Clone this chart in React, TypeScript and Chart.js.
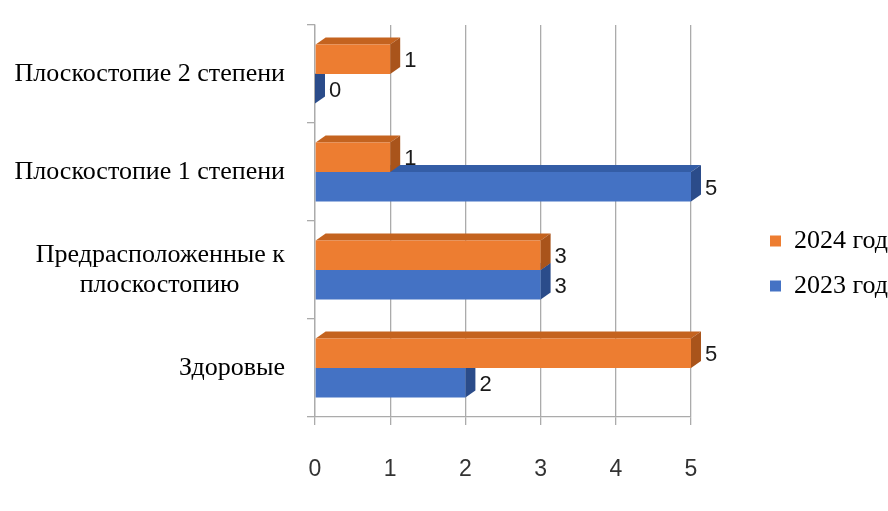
import { useEffect, useRef } from "react";
import { Chart, registerables } from "chart.js";

Chart.register(...registerables);

const categories: string[][] = [
  ["Плоскостопие 2 степени"],
  ["Плоскостопие 1 степени"],
  ["Предрасположенные к", "плоскостопию" + "\u00A0".repeat(7)],
  ["Здоровые"],
];
const seriesNames = ["2024 год", "2023 год"];
const values2024 = [1, 1, 3, 5];
const values2023 = [0, 5, 3, 2];
const xMin = 0;
const xMax = 5;

const frontColors = ["#ED7D31", "#4472C4"];
const topColors = ["#C4631F", "#345DA6"];
const sideColors = ["#A9541B", "#2B4C8A"];
const DX = 10;
const DY = 7;

const depthPlugin = {
  id: "depth3d",
  beforeDatasetsDraw(chart: any) {
    const ctx = chart.ctx;
    ctx.save();
    for (let d = chart.data.datasets.length - 1; d >= 0; d--) {
      const meta = chart.getDatasetMeta(d);
      meta.data.forEach((bar: any) => {
        const { x, y, base, height } = bar.getProps(["x", "y", "base", "height"], true);
        const top = y - height / 2;
        const bottom = y + height / 2;
        const x0 = Math.min(x, base);
        const x1 = Math.max(x, base);
        ctx.fillStyle = topColors[d];
        ctx.beginPath();
        ctx.moveTo(x0, top);
        ctx.lineTo(x0 + DX, top - DY);
        ctx.lineTo(x1 + DX, top - DY);
        ctx.lineTo(x1, top);
        ctx.closePath();
        ctx.fill();
        ctx.fillStyle = sideColors[d];
        ctx.beginPath();
        ctx.moveTo(x1, top);
        ctx.lineTo(x1 + DX, top - DY);
        ctx.lineTo(x1 + DX, bottom - DY);
        ctx.lineTo(x1, bottom);
        ctx.closePath();
        ctx.fill();
      });
    }
    ctx.restore();
  },
  afterDatasetsDraw(chart: any) {
    const ctx = chart.ctx;
    ctx.save();
    ctx.font = '22px "Liberation Sans"';
    ctx.fillStyle = "#1a1a1a";
    ctx.textAlign = "left";
    ctx.textBaseline = "middle";
    chart.data.datasets.forEach((ds: any, d: number) => {
      const meta = chart.getDatasetMeta(d);
      meta.data.forEach((bar: any, i: number) => {
        const { x, y, base } = bar.getProps(["x", "y", "base"], true);
        const x1 = Math.max(x, base);
        ctx.fillText(String(ds.data[i]), x1 + DX + 4, y + 2);
      });
    });
    ctx.restore();
  },
};

export default function App() {
  const ref = useRef<HTMLCanvasElement | null>(null);

  useEffect(() => {
    if (!ref.current) return;
    const grid = "#ababab";
    const chart = new Chart(ref.current, {
      type: "bar",
      data: {
        labels: categories,
        datasets: [
          {
            label: seriesNames[0],
            data: values2024,
            backgroundColor: frontColors[0],
            borderWidth: 0,
          },
          {
            label: seriesNames[1],
            data: values2023,
            backgroundColor: frontColors[1],
            borderWidth: 0,
          },
        ],
      },
      plugins: [depthPlugin],
      options: {
        indexAxis: "y",
        animation: false,
        responsive: true,
        maintainAspectRatio: false,
        layout: { padding: { left: 10, top: 25, bottom: 27, right: -10 } },
        datasets: {
          bar: { categoryPercentage: 0.6, barPercentage: 1 },
        },
        scales: {
          x: {
            min: xMin,
            max: xMax,
            ticks: {
              stepSize: 1,
              color: "#333",
              font: { family: '"Liberation Sans"', size: 23 },
              padding: 31,
            },
            grid: { color: grid, lineWidth: 1.3, tickLength: 8 },
            border: { color: grid, width: 1.3 },
            afterFit: (s: any) => {
              s.height = 67;
            },
          },
          y: {
            ticks: {
              color: "#000",
              font: { family: '"Liberation Serif"', size: 26, lineHeight: 1.15 },
              padding: 22,
            },
            grid: { drawOnChartArea: false, color: grid, lineWidth: 1.3, tickLength: 8 },
            border: { color: grid, width: 1.3 },
            afterFit: (s: any) => {
              s.width = 305;
              s.paddingTop = 0;
              s.paddingBottom = 0;
            },
          },
          pad: {
            type: "linear",
            position: "right",
            display: true,
            grid: { display: false },
            ticks: { display: false },
            border: { display: false },
            afterFit: (s: any) => {
              s.width = 60;
              s.paddingTop = 0;
              s.paddingBottom = 0;
            },
          },
        },
        plugins: {
          legend: {
            position: "right",
            title: { display: true, text: " ", font: { size: 10 }, padding: { top: 3, bottom: 3 } },
            labels: {
              color: "#000",
              font: { family: '"Liberation Serif"', size: 26 },
              boxWidth: 11,
              boxHeight: 11,
              padding: 19,
            },
          },
          tooltip: { enabled: false },
        },
      } as any,
    });
    return () => chart.destroy();
  }, []);

  return (
    <div style={{ position: "fixed", left: 0, top: 0, width: 888, height: 511, background: "#fff" }}>
      <canvas ref={ref} />
    </div>
  );
}
